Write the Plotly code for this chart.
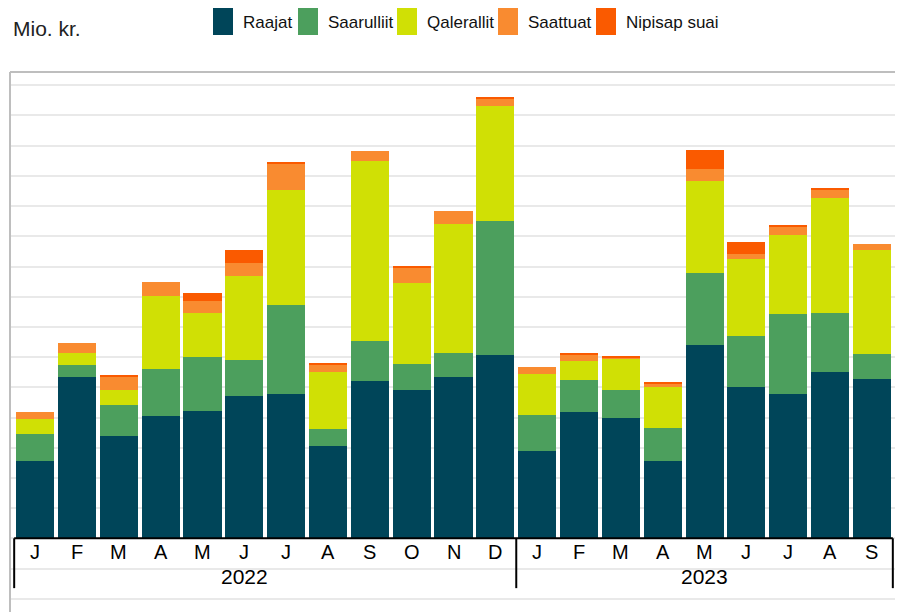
import plotly.graph_objects as go

months = ["J", "F", "M", "A", "M", "J", "J", "A", "S", "O", "N", "D",
          "J", "F", "M", "A", "M", "J", "J", "A", "S"]
years = ["2022"] * 12 + ["2023"] * 9

series_names = ["Raajat", "Saarulliit", "Qalerallit", "Saattuat", "Nipisap suai"]
colors = ["#004559", "#4c9f5d", "#d0e005", "#f98b30", "#fa5a00"]

raajat = [25.5, 53.3, 33.8, 40.4, 42.1, 47.0, 47.7, 30.5, 52.0, 49.0, 53.3, 60.6,
          28.8, 41.7, 39.7, 25.5, 63.9, 50.0, 47.7, 55.0, 52.6]
saarulliit = [8.9, 4.0, 10.3, 15.6, 17.9, 11.9, 29.5, 5.6, 13.2, 8.6, 7.9, 44.4,
              11.9, 10.6, 9.3, 10.9, 23.8, 16.9, 26.5, 19.5, 8.3]
qalerallit = [5.0, 4.0, 5.0, 24.2, 14.6, 28.1, 38.1, 18.9, 59.6, 26.8, 43.0, 38.1,
              13.6, 6.3, 10.3, 13.6, 30.5, 25.5, 26.2, 38.1, 34.4]
saattuat = [2.3, 3.3, 4.6, 4.6, 4.0, 4.3, 8.6, 2.6, 3.6, 5.3, 4.3, 2.3,
            2.3, 2.3, 0.7, 1.3, 4.0, 1.7, 3.0, 3.0, 2.3]
nipisap = [0, 0, 0.4, 0, 2.6, 4.0, 0.7, 0.3, 0, 0.3, 0, 0.7,
           0, 0.3, 0.3, 0.3, 6.3, 4.0, 0.3, 0.3, 0]

values = [raajat, saarulliit, qalerallit, saattuat, nipisap]
x = list(range(len(months)))

# The page places the figure at an 8px body offset; size it to end at the window edge.
OFF = 8
W, H = 903 - OFF, 612 - OFF
# plot area in window pixels: x 10..897, y 72..612
PL, PR, PT, PB = 10, 897, 72, 612
ML, MR, MT, MB = PL - OFF, (OFF + W) - PR, PT - OFF, (OFF + H) - PB
PW, PH = PR - PL, PB - PT
YMIN, YMAX = -24.4, 154.4


def px_x(p):
    return (p - PL) / PW


def px_y(p):
    return (PB - p) / PH


fig = go.Figure()
for name, col, vals in zip(series_names, colors, values):
    fig.add_trace(go.Bar(x=x, y=vals, name=name, marker=dict(color=col, line=dict(width=0)),
                         showlegend=False))

shapes = []
annotations = []

# outer frame (left, top, right)
frame = dict(type="line", xref="paper", yref="paper", line=dict(color="#bebebe", width=2))
shapes.append(dict(frame, x0=0, x1=0, y0=-0.1, y1=1))
shapes.append(dict(frame, x0=0, x1=1, y0=1, y1=1))
shapes.append(dict(frame, x0=1, x1=1, y0=-0.1, y1=1))

# baseline
shapes.append(dict(type="line", xref="x", yref="y", x0=-0.5, x1=len(x) - 0.5, y0=0, y1=0,
                   line=dict(color="black", width=2)))

# year groups
groups = []
for i, yv in enumerate(years):
    if not groups or groups[-1][0] != yv:
        groups.append([yv, i, i])
    else:
        groups[-1][2] = i
for yv, s, e in groups:
    shapes.append(dict(type="line", xref="x", yref="y", x0=s - 0.5, x1=s - 0.5, y0=0, y1=-16.5,
                       line=dict(color="black", width=2)))
    mid = s + (e - s) // 2
    annotations.append(dict(x=mid, y=-12.8, xref="x", yref="y", text=yv, showarrow=False,
                            xanchor="center", yanchor="middle",
                            font=dict(size=21, color="black")))
shapes.append(dict(type="line", xref="x", yref="y", x0=len(x) - 0.5, x1=len(x) - 0.5, y0=0, y1=-16.5,
                   line=dict(color="black", width=2)))

# month labels
for i, m in enumerate(months):
    annotations.append(dict(x=i, y=-4.4, xref="x", yref="y", text=m, showarrow=False,
                            xanchor="center", yanchor="middle",
                            font=dict(size=20, color="black")))

# unit label
annotations.append(dict(x=px_x(11), y=px_y(29), xref="paper", yref="paper", text="Mio. kr.",
                        showarrow=False, xanchor="left", yanchor="middle",
                        font=dict(size=21, color="#222222")))

# manual legend
swatch_x = [213, 298, 397, 498, 596]
for name, col, sx in zip(series_names, colors, swatch_x):
    shapes.append(dict(type="rect", xref="paper", yref="paper",
                       x0=px_x(sx), x1=px_x(sx + 20), y0=px_y(35), y1=px_y(8),
                       fillcolor=col, line=dict(width=0)))
    annotations.append(dict(x=px_x(sx + 28), y=px_y(23), xref="paper", yref="paper", text=name,
                            showarrow=False, xanchor="left", yanchor="middle",
                            font=dict(size=17, color="#111111")))

fig.update_layout(
    width=W, height=H,
    margin=dict(l=ML, r=MR, t=MT, b=MB),
    barmode="stack", bargap=0.09,
    plot_bgcolor="white", paper_bgcolor="white",
    font=dict(family="Liberation Sans, Arial, sans-serif", color="black"),
    xaxis=dict(range=[-0.6, len(x) - 0.4], showgrid=False, zeroline=False,
               showticklabels=False, ticks="", showline=False),
    yaxis=dict(range=[YMIN, YMAX], dtick=10, tick0=0, showgrid=True, gridcolor="#e9e9e9",
               gridwidth=1.5, zeroline=False, showticklabels=False, ticks="", showline=False),
    shapes=shapes,
    annotations=annotations,
)

fig.write_html("out.html")
